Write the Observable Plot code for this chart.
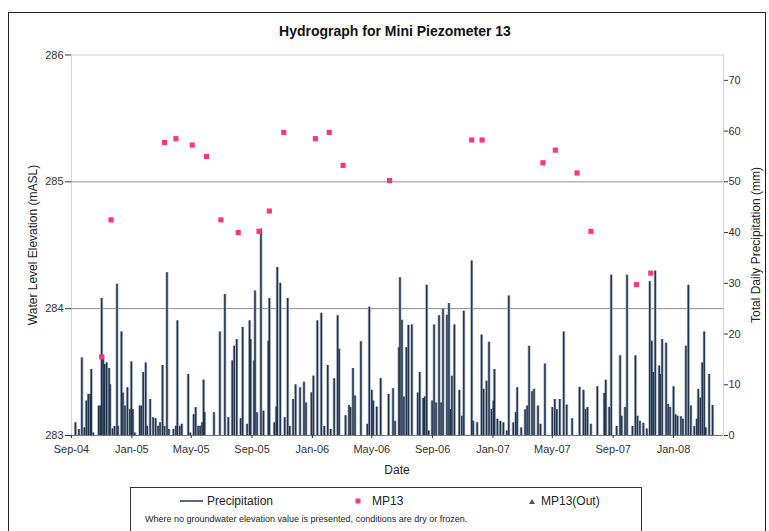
<!DOCTYPE html>
<html><head><meta charset="utf-8">
<script src="https://cdn.jsdelivr.net/npm/d3@7"></script>
<script src="https://cdn.jsdelivr.net/npm/@observablehq/plot@0.6"></script>
<style>
body{margin:0;background:#fff;}
#chart{position:relative;width:769px;height:531px;overflow:hidden;}
</style></head><body><div id="chart"></div>
<script>
// ---- data ----
const precipDates = [
"2004-09-09","2004-09-16","2004-09-22","2004-09-27","2004-10-01","2004-10-05","2004-10-09","2004-10-11","2004-10-15","2004-10-26","2004-10-29",
"2004-11-01","2004-11-04","2004-11-07","2004-11-11","2004-11-16","2004-11-18","2004-11-23","2004-11-27","2004-12-02","2004-12-04","2004-12-11",
"2004-12-14","2004-12-18","2004-12-23","2004-12-28","2004-12-31","2005-01-03","2005-01-07","2005-01-17","2005-01-20","2005-01-24","2005-01-29",
"2005-02-01","2005-02-07","2005-02-13","2005-02-18","2005-02-23","2005-02-27","2005-03-04","2005-03-08","2005-03-13","2005-03-17","2005-03-26",
"2005-03-31","2005-04-03","2005-04-08","2005-04-12","2005-04-25","2005-04-29","2005-05-06","2005-05-10","2005-05-15","2005-05-19","2005-05-23",
"2005-05-26","2005-05-28","2005-06-16","2005-06-28","2005-07-08","2005-07-15","2005-07-23","2005-07-27","2005-08-01","2005-08-09","2005-08-13",
"2005-08-22","2005-08-27","2005-08-29","2005-09-05","2005-09-07","2005-09-11","2005-09-19","2005-09-24","2005-10-04","2005-10-06","2005-10-16",
"2005-10-20","2005-10-22","2005-10-28","2005-11-06","2005-11-12","2005-11-16","2005-11-23","2005-11-28","2005-12-07","2005-12-15","2005-12-19",
"2005-12-30","2006-01-03","2006-01-11","2006-01-19","2006-01-25","2006-02-01","2006-02-07",
"2006-02-14","2006-02-21","2006-02-24","2006-03-09","2006-03-16","2006-03-19","2006-03-24","2006-03-28","2006-04-09","2006-04-22","2006-04-26",
"2006-05-01","2006-05-04","2006-05-11","2006-05-19","2006-06-04","2006-06-13","2006-06-17","2006-06-25","2006-06-27","2006-07-01","2006-07-05",
"2006-07-10","2006-07-14","2006-07-21","2006-08-02","2006-08-06","2006-08-13","2006-08-16","2006-08-20","2006-08-24","2006-08-31","2006-09-04",
"2006-09-08","2006-09-14","2006-09-18","2006-09-22","2006-09-30","2006-10-04","2006-10-07","2006-10-10","2006-10-15","2006-10-25",
"2006-10-30","2006-11-03","2006-11-19","2006-11-22","2006-11-30","2006-12-09","2006-12-13","2006-12-19","2006-12-24","2006-12-29","2007-01-02",
"2007-01-04","2007-01-10","2007-01-16","2007-01-22","2007-01-29","2007-02-02","2007-02-11","2007-02-16","2007-02-19","2007-02-27","2007-03-07",
"2007-03-11","2007-03-15","2007-03-21","2007-03-25","2007-04-02","2007-04-07","2007-04-16","2007-05-01","2007-05-06","2007-05-10","2007-05-16",
"2007-05-24","2007-05-30","2007-06-10","2007-06-25","2007-07-03","2007-07-07","2007-07-11","2007-07-18",
"2007-07-31","2007-08-14","2007-08-17","2007-08-24","2007-08-28","2007-09-08","2007-09-15","2007-09-18","2007-09-25","2007-09-29","2007-10-10",
"2007-10-16","2007-10-20","2007-10-25","2007-11-01","2007-11-08","2007-11-14","2007-11-18","2007-11-21","2007-11-25","2007-12-03","2007-12-05",
"2007-12-09","2007-12-17","2007-12-21","2007-12-25","2008-01-01","2008-01-05","2008-01-09","2008-01-16","2008-01-20","2008-01-26","2008-01-31",
"2008-02-05","2008-02-12","2008-02-17","2008-02-20","2008-02-24","2008-02-28","2008-03-03","2008-03-06","2008-03-13","2008-03-20"
];
const precipMm = [
2.5,1.2,15.3,1.5,6.8,8.1,8.1,13.0,0.5,5.8,5.8,
27.0,15.7,14.0,14.3,13.2,10.0,1.3,1.8,29.8,1.8,20.4,
8.4,5.8,9.4,5.1,14.5,5.1,0.5,5.8,5.8,12.4,14.3,
1.8,7.1,3.5,3.3,1.8,2.5,13.8,1.8,32.1,1.2,1.2,
1.8,22.6,1.8,2.2,12.0,0.5,4.1,5.5,1.8,1.8,2.5,
10.9,4.5,4.5,20.4,27.8,3.5,14.7,17.6,18.9,3.3,21.3,
2.2,22.6,18.9,14.7,28.5,4.5,40.7,4.8,18.6,27.0,2.5,
5.6,33.1,30.0,3.5,27.0,1.8,7.1,10.0,9.4,10.5,6.4,
8.4,11.7,22.6,24.1,1.8,13.8,1.2,
11.2,23.6,17.0,3.9,5.9,5.5,13.2,7.8,18.5,2.2,25.3,
8.9,6.8,5.6,11.2,8.1,9.2,2.8,17.3,31.1,22.7,7.6,
17.3,21.7,21.8,8.4,12.4,7.3,7.6,29.6,0.9,6.8,21.8,
6.4,23.6,6.4,24.9,23.7,26.0,5.1,11.7,21.8,8.9,
3.8,24.5,34.4,2.8,2.5,19.8,9.1,10.7,18.4,5.1,6.8,
13.0,3.2,2.8,2.5,0.9,27.5,2.5,4.5,9.4,1.5,5.1,
5.8,17.6,8.6,9.1,5.8,2.2,14.1,5.5,7.1,5.1,7.1,
20.4,6.0,3.3,9.5,8.9,5.1,5.5,2.2,
9.6,8.3,10.9,5.5,31.6,1.8,15.7,3.8,5.5,31.6,1.8,
15.7,3.8,2.8,2.4,1.3,30.3,18.6,12.4,32.4,13.7,12.0,
18.9,18.2,6.1,5.5,9.6,4.1,3.8,3.7,3.2,17.6,29.6,
5.8,1.8,3.2,9.1,7.4,14.3,20.4,1.5,12.0,5.9
];
const mp13Dates = ["2004-11-01","2004-11-20","2005-03-08","2005-03-31","2005-05-03","2005-06-01","2005-06-30","2005-08-04",
"2005-09-15","2005-10-06","2005-11-04","2006-01-07","2006-02-04","2006-03-04","2006-06-06","2006-11-19","2006-12-10",
"2007-04-12","2007-05-07","2007-06-20","2007-07-18","2007-10-18","2007-11-16"];
const mp13Elev = [283.62,284.70,285.31,285.34,285.29,285.20,284.70,284.60,
284.61,284.77,285.39,285.34,285.39,285.13,285.01,285.33,285.33,
285.15,285.25,285.07,284.61,284.19,284.28];
const xTickDates = ["2004-09-01","2005-01-01","2005-05-01","2005-09-01","2006-01-01","2006-05-01","2006-09-01",
"2007-01-01","2007-05-01","2007-09-01","2008-01-01"];
const leftTicks = [283,284,285,286];
const rightTicks = [0,10,20,30,40,50,60,70];
const xDomain = ["2004-09-01","2008-04-11"];
const legendLabels = ["Precipitation","MP13","MP13(Out)"];
const noteText = "Where no groundwater elevation value is presented, conditions are dry or frozen.";

// ---- build ----
const font = "'Liberation Sans', Arial, sans-serif";
const toDate = s => new Date(s + "T00:00:00Z");
const base = 283, perM = 25; // 1 m on left axis = 25 mm on right axis
const precip = precipDates.map((d,i)=>({date:toDate(d), mm:precipMm[i]}));
const mp13 = mp13Dates.map((d,i)=>({date:toDate(d), elev:mp13Elev[i]}));

const plot = Plot.plot({
  width:769, height:531,
  marginLeft:71, marginRight:46, marginTop:54.5, marginBottom:96,
  style:{fontFamily:font, fontSize:"11px", color:"#222", background:"transparent", overflow:"visible"},
  x:{type:"utc", domain:xDomain.map(toDate)},
  y:{domain:[283,286]},
  marks:[
    Plot.frame({stroke:"#d4d4d4"}),
    Plot.ruleY([284,285],{stroke:"#8c8c8c", strokeWidth:1}),
    Plot.ruleX(precip,{x:"date", y1:()=>base, y2:d=>base+d.mm/perM, stroke:"#aeb8c5", strokeWidth:3}),
    Plot.ruleX(precip,{x:"date", y1:()=>base, y2:d=>base+d.mm/perM, stroke:"#22344d", strokeWidth:1.5}),
    Plot.ruleY([283],{stroke:"#777"}),
    Plot.dot(mp13,{x:"date", y:"elev", symbol:"square", r:2.9, fill:"#ff3482", stroke:null}),
    Plot.axisY({anchor:"left", ticks:leftTicks, tickFormat:d=>d, tickSize:6, tickPadding:2, label:null, color:"#333"}),
    Plot.axisY({anchor:"right", ticks:rightTicks.map(t=>base+t/perM), tickFormat:d=>Math.round((d-base)*perM), tickSize:4, tickPadding:1, label:null, color:"#333"}),
    Plot.axisX({ticks:xTickDates.map(toDate), tickFormat:d3.utcFormat("%b-%y"), tickSize:3, tickPadding:7, label:null, color:"#333"})
  ]
});
document.getElementById("chart").appendChild(plot);

const svg = d3.select(plot);
const txt = (sel) => sel.attr("font-family",font).attr("fill","#222");
// outer border
svg.append("rect").attr("x",8.5).attr("y",12.5).attr("width",757).attr("height",540)
  .attr("fill","none").attr("stroke","#222").attr("stroke-width",1);
// title
txt(svg.append("text")).attr("x",395).attr("y",36).attr("text-anchor","middle")
  .attr("font-size",14).attr("font-weight","bold").attr("fill","#111")
  .text("Hydrograph for Mini Piezometer 13");
// axis titles
txt(svg.append("text")).attr("transform","translate(37,245) rotate(-90)").attr("text-anchor","middle")
  .attr("font-size",12).text("Water Level Elevation (mASL)");
txt(svg.append("text")).attr("transform","translate(760,245) rotate(-90)").attr("text-anchor","middle")
  .attr("font-size",12).text("Total Daily Precipitation (mm)");
txt(svg.append("text")).attr("x",397).attr("y",474).attr("text-anchor","middle")
  .attr("font-size",12).text("Date");
// legend
const lg = svg.append("g").attr("text-anchor","start");
lg.append("rect").attr("x",130.5).attr("y",487.5).attr("width",511).attr("height",60)
  .attr("fill","#fff").attr("stroke","#333");
lg.append("line").attr("x1",180).attr("x2",203).attr("y1",501).attr("y2",501).attr("stroke","#24364f").attr("stroke-width",1.5);
txt(lg.append("text")).attr("text-anchor","start").attr("x",207).attr("y",505).attr("font-size",12).text(legendLabels[0]);
lg.append("rect").attr("x",355.5).attr("y",498.5).attr("width",5).attr("height",5).attr("fill","#ff3482");
txt(lg.append("text")).attr("text-anchor","start").attr("x",372).attr("y",505).attr("font-size",12).text(legendLabels[1]);
lg.append("path").attr("d","M532,499 L535,504 L529,504 Z").attr("fill","#6a3d8a");
txt(lg.append("text")).attr("text-anchor","start").attr("x",541).attr("y",505).attr("font-size",12).text(legendLabels[2]);
txt(lg.append("text")).attr("text-anchor","start").attr("x",145).attr("y",522).attr("font-size",9).text(noteText);
</script></body></html>
